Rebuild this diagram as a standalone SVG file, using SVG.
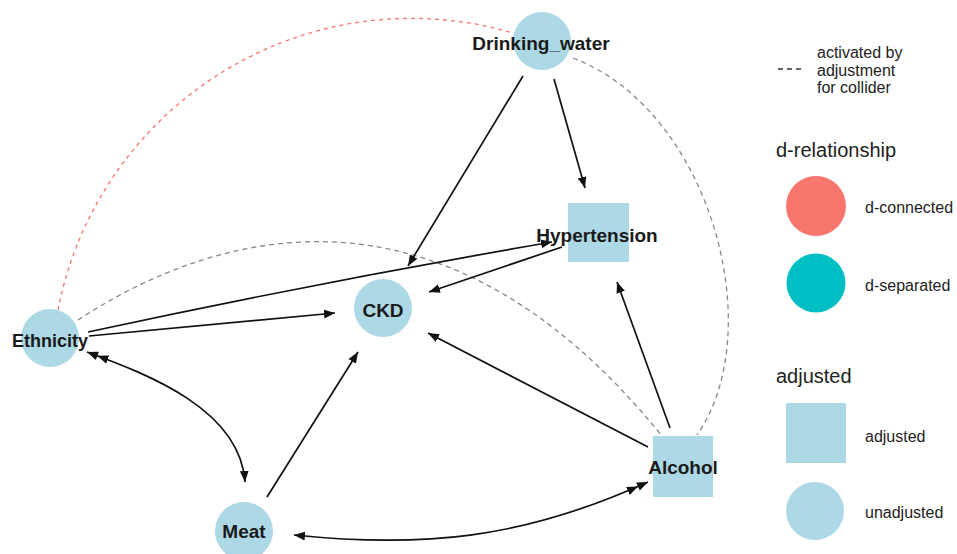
<svg xmlns="http://www.w3.org/2000/svg" width="957" height="554" viewBox="0 0 957 554">
<style>
.node{fill:#ADD8E6}
.lbl{font-family:"Liberation Sans",Arial,sans-serif;font-weight:bold;font-size:19px;fill:#1a1a1a;text-anchor:middle}
.edge{fill:none;stroke:#111;stroke-width:1.7}
.dgray{fill:none;stroke:#888;stroke-width:1.3;stroke-dasharray:5,4}
.dred{fill:none;stroke:#F8766D;stroke-width:1.3;stroke-dasharray:4,4}
.lt{font-family:"Liberation Sans",Arial,sans-serif;font-size:16px;fill:#222}
.lh{font-family:"Liberation Sans",Arial,sans-serif;font-size:20px;fill:#222}
</style>
<defs>
<marker id="ah" viewBox="0 0 10 10" refX="10" refY="5" markerWidth="11" markerHeight="11" markerUnits="userSpaceOnUse" orient="auto-start-reverse"><path d="M0,1 L10,5 L0,9 z" fill="#111"/></marker>
<marker id="ah2" viewBox="0 0 20 10" refX="20" refY="5" markerWidth="22" markerHeight="11" markerUnits="userSpaceOnUse" orient="auto-start-reverse"><path d="M0,1 L10,5 L0,9 z M10,1 L20,5 L10,9 z" fill="#111"/></marker>
</defs>
<g id="connectors">
<path class="dred" d="M58,310 A360,360 0 0,1 513,33"/>
<path class="dgray" d="M573,58 C710,110 770,330 697,435"/>
<path class="dgray" d="M78,320 C200,240 433,153 662,436"/>
<path class="edge" d="M523,76 L408,266" marker-end="url(#ah)"/>
<path class="edge" d="M554,79 L585,188" marker-end="url(#ah)"/>
<path class="edge" d="M88,332 Q320,282 552,242" marker-end="url(#ah)"/>
<path class="edge" d="M89,336 L335,313" marker-end="url(#ah)"/>
<path class="edge" d="M562,247 L429,292" marker-end="url(#ah)"/>
<path class="edge" d="M267,497 L358,352" marker-end="url(#ah)"/>
<path class="edge" d="M648,447 L428,333" marker-end="url(#ah)"/>
<path class="edge" d="M670,428 L617,282" marker-end="url(#ah)"/>
<path class="edge" d="M87,352 C150,375 240,410 245,482" marker-start="url(#ah2)" marker-end="url(#ah)"/>
<path class="edge" d="M294,535 C420,548 520,540 648,482" marker-start="url(#ah)" marker-end="url(#ah2)"/>
</g>
<g id="node-drinking_water"><circle class="node" cx="542" cy="41" r="29"/><text class="lbl" x="541" y="50">Drinking_water</text></g>
<g id="node-hypertension"><rect class="node" x="568" y="203" width="61" height="59"/><text class="lbl" x="597" y="242">Hypertension</text></g>
<g id="node-ckd"><circle class="node" cx="383" cy="308" r="29"/><text class="lbl" x="383" y="317">CKD</text></g>
<g id="node-ethnicity"><circle class="node" cx="50" cy="338" r="29"/><text class="lbl" x="50" y="347" style="font-size:18px">Ethnicity</text></g>
<g id="node-meat"><circle class="node" cx="244" cy="531" r="29"/><text class="lbl" x="244" y="538">Meat</text></g>
<g id="node-alcohol"><rect class="node" x="653" y="436" width="60" height="61"/><text class="lbl" x="683" y="474">Alcohol</text></g>
<g id="legend">
<line x1="778" y1="69" x2="803" y2="69" stroke="#333" stroke-width="1.3" stroke-dasharray="5,4"/>
<text class="lt" x="817" y="58">activated by</text>
<text class="lt" x="817" y="76">adjustment</text>
<text class="lt" x="817" y="93">for collider</text>
<text class="lh" x="776" y="157">d-relationship</text>
<circle cx="816" cy="206" r="30" fill="#F8766D"/>
<text class="lt" x="865" y="213">d-connected</text>
<circle cx="816" cy="283" r="29.5" fill="#00BFC4"/>
<text class="lt" x="865" y="291">d-separated</text>
<text class="lh" x="776" y="383">adjusted</text>
<rect class="node" x="786" y="403" width="60" height="60"/>
<text class="lt" x="865" y="442">adjusted</text>
<circle class="node" cx="815" cy="511" r="29"/>
<text class="lt" x="865" y="518">unadjusted</text>
</g>
</svg>
